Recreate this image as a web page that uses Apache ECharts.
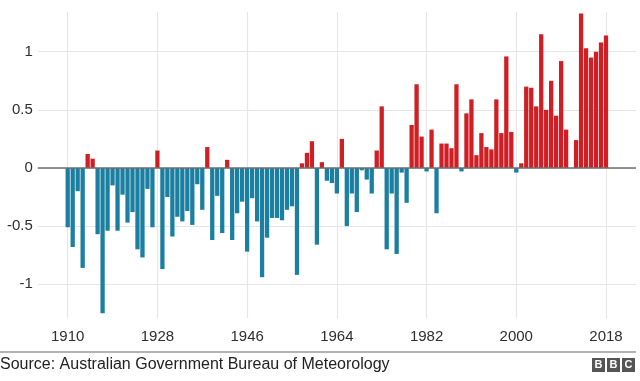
<!DOCTYPE html>
<html>
<head>
<meta charset="utf-8">
<script src="https://cdn.jsdelivr.net/npm/echarts@6/dist/echarts.min.js"></script>
<style>
html,body{margin:0;padding:0;background:#fff;}
#chart{width:640px;height:381px;}
</style>
</head>
<body>
<div id="chart"></div>
<script>
// Years shown on the axis (padding years have no data)
const firstYear = 1904;
const lastYear = 2024;
const tickYears = [1910, 1928, 1946, 1964, 1982, 2000, 2018];
const dataStartYear = 1910;
// Annual temperature anomaly (°C), 1910–2018
const anomalies = [
  -0.51, -0.68, -0.20, -0.86, 0.12, 0.08, -0.57, -1.25, -0.54, -0.15,
  -0.54, -0.23, -0.47, -0.38, -0.70, -0.77, -0.18, -0.51, 0.15, -0.87,
  -0.25, -0.59, -0.42, -0.46, -0.37, -0.49, -0.14, -0.36, 0.18, -0.62,
  -0.24, -0.56, 0.07, -0.62, -0.39, -0.29, -0.72, -0.26, -0.46, -0.94,
  -0.60, -0.43, -0.43, -0.45, -0.36, -0.33, -0.92, 0.04, 0.13, 0.23,
  -0.66, 0.05, -0.11, -0.13, -0.22, 0.25, -0.50, -0.22, -0.38, -0.02,
  -0.10, -0.22, 0.15, 0.53, -0.70, -0.22, -0.74, -0.04, -0.30, 0.37,
  0.72, 0.27, -0.03, 0.33, -0.39, 0.21, 0.21, 0.17, 0.72, -0.03,
  0.47, 0.59, 0.11, 0.30, 0.18, 0.16, 0.59, 0.30, 0.96, 0.31,
  -0.04, 0.04, 0.70, 0.69, 0.53, 1.15, 0.50, 0.75, 0.45, 0.92,
  0.33, 0.00, 0.24, 1.33, 1.03, 0.95, 1.00, 1.08, 1.14
];
const yTickLabels = ['-1', '-0.5', '0', '0.5', '1'];
const sourceText = 'Source: Australian Government Bureau of Meteorology';

const categories = [];
const values = [];
for (let y = firstYear; y <= lastYear; y++) {
  categories.push(String(y));
  const i = y - dataStartYear;
  values.push(i >= 0 && i < anomalies.length ? anomalies[i] : '-');
}
const RED = '#d01f24';
const BLUE = '#1b7fa1';
const FONT = '"Liberation Sans", Arial, sans-serif';

const chart = echarts.init(document.getElementById('chart'), null, {renderer: 'canvas'});
chart.setOption({
  animation: false,
  backgroundColor: '#fff',
  grid: {left: 37.8, right: 4.1, top: 12, bottom: 63, containLabel: false},
  xAxis: {
    type: 'category',
    data: categories,
    boundaryGap: false,
    axisLine: {show: false},
    axisTick: {show: false},
    axisLabel: {
      interval: (idx, val) => tickYears.includes(Number(val)),
      fontSize: 15, color: '#2e2e2e', fontFamily: FONT, margin: 11
    },
    splitLine: {
      show: true,
      interval: (idx, val) => tickYears.includes(Number(val)),
      lineStyle: {color: '#e6e6e6', width: 1.2}
    }
  },
  yAxis: {
    type: 'value',
    min: -1.291,
    max: 1.342,
    splitNumber: 5,
    axisLine: {show: false},
    axisTick: {show: false},
    axisLabel: {
      showMinLabel: false, showMaxLabel: false,
      fontSize: 15, color: '#2e2e2e', fontFamily: FONT, margin: 5,
      formatter: v => {
        const s = String(Math.round(v * 10) / 10);
        return yTickLabels.includes(s) ? s : '';
      }
    },
    splitLine: {
      show: true, showMinLine: false, showMaxLine: false,
      lineStyle: {color: '#e6e6e6', width: 1.2}
    }
  },
  series: [{
    type: 'bar',
    data: values,
    barCategoryGap: '14%',
    itemStyle: {
      color: p => (p.value >= 0 ? RED : BLUE)
    },
    markLine: {
      silent: true,
      symbol: 'none',
      label: {show: false},
      lineStyle: {color: '#6e6e6e', width: 1.5, type: 'solid'},
      data: [{yAxis: 0}],
      z: 5
    }
  }],
  graphic: [
    {type: 'line', shape: {x1: 0, y1: 352, x2: 636, y2: 352},
     style: {stroke: '#9a9a9a', lineWidth: 1.5}},
    {type: 'text', left: 0, top: 357,
     style: {text: sourceText, font: '16px ' + FONT, fill: '#222'}},
    {type: 'rect', shape: {x: 592, y: 358, width: 13, height: 14}, style: {fill: '#555'}},
    {type: 'rect', shape: {x: 607, y: 358, width: 13, height: 14}, style: {fill: '#555'}},
    {type: 'rect', shape: {x: 622, y: 358, width: 13, height: 14}, style: {fill: '#555'}},
    {type: 'text', x: 598.5, y: 365, style: {text: 'B', font: 'bold 11px ' + FONT, fill: '#fff', align: 'center', verticalAlign: 'middle'}},
    {type: 'text', x: 613.5, y: 365, style: {text: 'B', font: 'bold 11px ' + FONT, fill: '#fff', align: 'center', verticalAlign: 'middle'}},
    {type: 'text', x: 628.5, y: 365, style: {text: 'C', font: 'bold 11px ' + FONT, fill: '#fff', align: 'center', verticalAlign: 'middle'}}
  ]
});
</script>
</body>
</html>
